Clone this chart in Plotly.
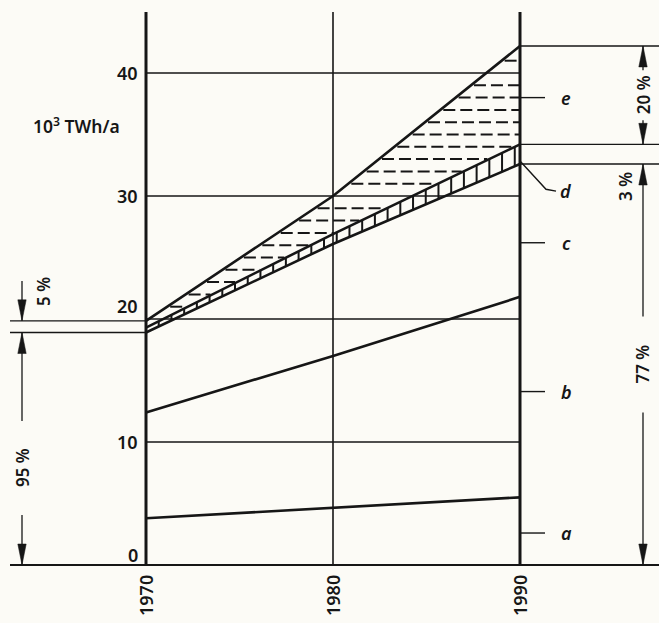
import numpy as np
import plotly.graph_objects as go

# ---------------- data ----------------
years = [1970, 1980, 1990]
a_vals = [3.8, 4.65, 5.5]
b_vals = [12.4, 17.0, 21.8]
c_vals = [18.9, 26.1, 32.6]
d_vals = [19.3, 26.9, 34.2]
e_vals = [19.85, 30.0, 42.2]

y_ticks = [0, 10, 20, 30, 40]
y_tick_labels = ["0", "10", "20", "30", "40"]
x_ticks = [1970, 1980, 1990]
x_tick_labels = ["1970", "1980", "1990"]

curve_names = ["a", "b", "c", "d", "e"]
curve_label_y = [2.6, 14.1, 26.2, 30.4, 38.0]

share_left = ["5 %", "95 %"]
share_right = ["20 %", "3 %", "77 %"]
unit_label = "10<sup>3</sup> TWh/a"

# ---------------- layout constants (pixels) ----------------
W, H = 659, 623
PX_1970, PX_1990 = 146, 520
PY_0, PY_40 = 565, 73
px_per_year = (PX_1990 - PX_1970) / 20.0
px_per_unit = (PY_0 - PY_40) / 40.0
x_min = 1970 - PX_1970 / px_per_year
x_max = 1990 + (W - PX_1990) / px_per_year
y_max = PY_0 / px_per_unit
y_min = -(H - PY_0) / px_per_unit


def xp(px):  # pixel -> year
    return 1970 + (px - PX_1970) / px_per_year


def yp(py):  # pixel -> value
    return (PY_0 - py) / px_per_unit


INK = "#161616"
BG = "#fcfbf6"
FONT = "Noto Sans"
WEIGHT = 600

fig = go.Figure()
shapes = []
annotations = []


def seg(x0, y0, x1, y1, w=1.3, dash=None):
    line = dict(color=INK, width=w)
    if dash:
        line["dash"] = dash
    shapes.append(dict(type="line", xref="x", yref="y", x0=x0, y0=y0, x1=x1, y1=y1,
                       line=line, layer="above"))


def arrowhead(x, y_tip, direction, length_px=21, half_w_px=4.2):
    L = length_px / px_per_unit
    hw = half_w_px / px_per_year
    yb = y_tip - direction * L
    shapes.append(dict(type="path", xref="x", yref="y",
                       path=f"M {x-hw},{yb} L {x},{y_tip} L {x+hw},{yb} Z",
                       fillcolor=INK, line=dict(color=INK, width=0.5), layer="above"))


def text(x, y, s, size=17, angle=0, xanchor="center", yanchor="middle", italic=False,
         yshift=0, weight=WEIGHT):
    if italic:
        s = f"<i>{s}</i>"
    annotations.append(dict(x=x, y=y, xref="x", yref="y", text=s, showarrow=False,
                            textangle=angle, xanchor=xanchor, yanchor=yanchor, yshift=yshift,
                            font=dict(family=FONT, size=size, color=INK, weight=weight)))


top_val = yp(12)

# gridlines
for t in y_ticks[1:]:
    seg(years[0], t, years[-1], t, w=1.3)

# vertical year lines
for i, yr in enumerate(x_ticks):
    seg(yr, 0, yr, top_val, w=3.0 if i != 1 else 1.6)

# baseline full width
seg(xp(10), 0, x_max, 0, w=2.2)

# horizontal dashes between d and e at whole-number levels
xs_fine = np.linspace(years[0], years[-1], 401)
e_f = np.interp(xs_fine, years, e_vals)
d_f = np.interp(xs_fine, years, d_vals)
dash_x, dash_y = [], []
for k in range(int(np.ceil(min(e_vals))), int(np.floor(max(e_vals))) + 1):
    if k in y_ticks:
        continue
    xl = np.interp(k, e_f, xs_fine)
    xr = np.interp(k, d_f, xs_fine) if k < d_vals[-1] else years[-1]
    xl += 3 / px_per_year
    if k < d_vals[-1]:
        xr -= 2 / px_per_year
    if xr - xl <= 0:
        continue
    dash_x += [xl, xr, None]
    dash_y += [k, k, None]
fig.add_trace(go.Scatter(x=dash_x, y=dash_y, mode="lines",
                         line=dict(color=INK, width=2.0, dash="12px,5px"),
                         hoverinfo="skip", showlegend=False))

# vertical hatch between c and d
hx = np.arange(years[0] + 0.68, years[-1] - 0.1, 0.68)
hatch_x, hatch_y = [], []
for x in hx:
    hatch_x += [x, x, None]
    hatch_y += [float(np.interp(x, years, c_vals)), float(np.interp(x, years, d_vals)), None]
fig.add_trace(go.Scatter(x=hatch_x, y=hatch_y, mode="lines",
                         line=dict(color=INK, width=2.0),
                         hoverinfo="skip", showlegend=False))

# main curves
for vals in [a_vals, b_vals, c_vals, d_vals, e_vals]:
    fig.add_trace(go.Scatter(x=years, y=vals, mode="lines",
                             line=dict(color=INK, width=2.6),
                             hoverinfo="skip", showlegend=False))

# extension lines
x_left_end = xp(10)
seg(x_left_end, e_vals[0], years[0], e_vals[0], w=1.4)
seg(x_left_end, c_vals[0], years[0], c_vals[0], w=1.4)
for v in [e_vals[-1], d_vals[-1], c_vals[-1]]:
    seg(years[-1], v, x_max, v, w=1.4)

# left dimension lines
xL = xp(22)
seg(xL, yp(281), xL, e_vals[0])
arrowhead(xL, e_vals[0], -1)
txt95_y = yp(468)
gap95 = 47 / px_per_unit
seg(xL, c_vals[0], xL, txt95_y + gap95)
arrowhead(xL, c_vals[0], +1)
seg(xL, txt95_y - gap95, xL, 0)
arrowhead(xL, 0, -1)
text(xL, txt95_y, share_left[1], angle=-90)
text(xp(43), yp(292), share_left[0], angle=-90)

# right dimension lines
xR = xp(643)
mid20 = (e_vals[-1] + d_vals[-1]) / 2
gap20 = 25 / px_per_unit
seg(xR, e_vals[-1], xR, mid20 + gap20)
arrowhead(xR, e_vals[-1], +1)
seg(xR, mid20 - gap20, xR, d_vals[-1])
arrowhead(xR, d_vals[-1], -1)
text(xR, mid20, share_right[0], angle=-90)
text(xp(625), yp(187), share_right[1], angle=-90)
mid77 = c_vals[-1] / 2
gap77 = 48 / px_per_unit
seg(xR, c_vals[-1], xR, mid77 + gap77)
arrowhead(xR, c_vals[-1], +1)
seg(xR, mid77 - gap77, xR, 0)
arrowhead(xR, 0, -1)
text(xR, mid77, share_right[2], angle=-90)

# curve labels with leaders
lead_end = xp(545)
lab_x = xp(566)
for name, ly in zip(curve_names, curve_label_y):
    if name == "d":
        shapes.append(dict(type="path", xref="x", yref="y",
                           path=(f"M {years[-1]},{c_vals[-1] + 0.25} L {xp(546)},{ly + 0.15} "
                                 f"L {xp(556)},{ly}"),
                           line=dict(color=INK, width=1.4), layer="above"))
    else:
        seg(years[-1], ly, lead_end, ly, w=1.4)
    text(lab_x, ly, name, size=18, italic=True)

# tick labels
tick_shift = [10, 0, 13, 0, 0]
for t, lab, sh in zip(y_ticks, y_tick_labels, tick_shift):
    text(xp(140), t, lab, size=18, xanchor="right", yshift=sh)
for t, lab in zip(x_ticks, x_tick_labels):
    text(t, yp(596), lab, size=18, angle=-90)

# unit label
text(xp(31), yp(125), unit_label, size=17.5, xanchor="left")

fig.update_layout(
    width=W, height=H, autosize=False,
    margin=dict(l=0, r=0, t=0, b=0, pad=0),
    paper_bgcolor=BG, plot_bgcolor=BG,
    xaxis=dict(range=[x_min, x_max], visible=False, fixedrange=True),
    yaxis=dict(range=[y_min, y_max], visible=False, fixedrange=True),
    shapes=shapes, annotations=annotations, showlegend=False,
)

fig.write_html(
    "out.html",
    config={"displayModeBar": False},
    post_script="document.body.style.margin='0';document.body.style.padding='0';"
                "document.body.style.overflow='hidden';",
)
